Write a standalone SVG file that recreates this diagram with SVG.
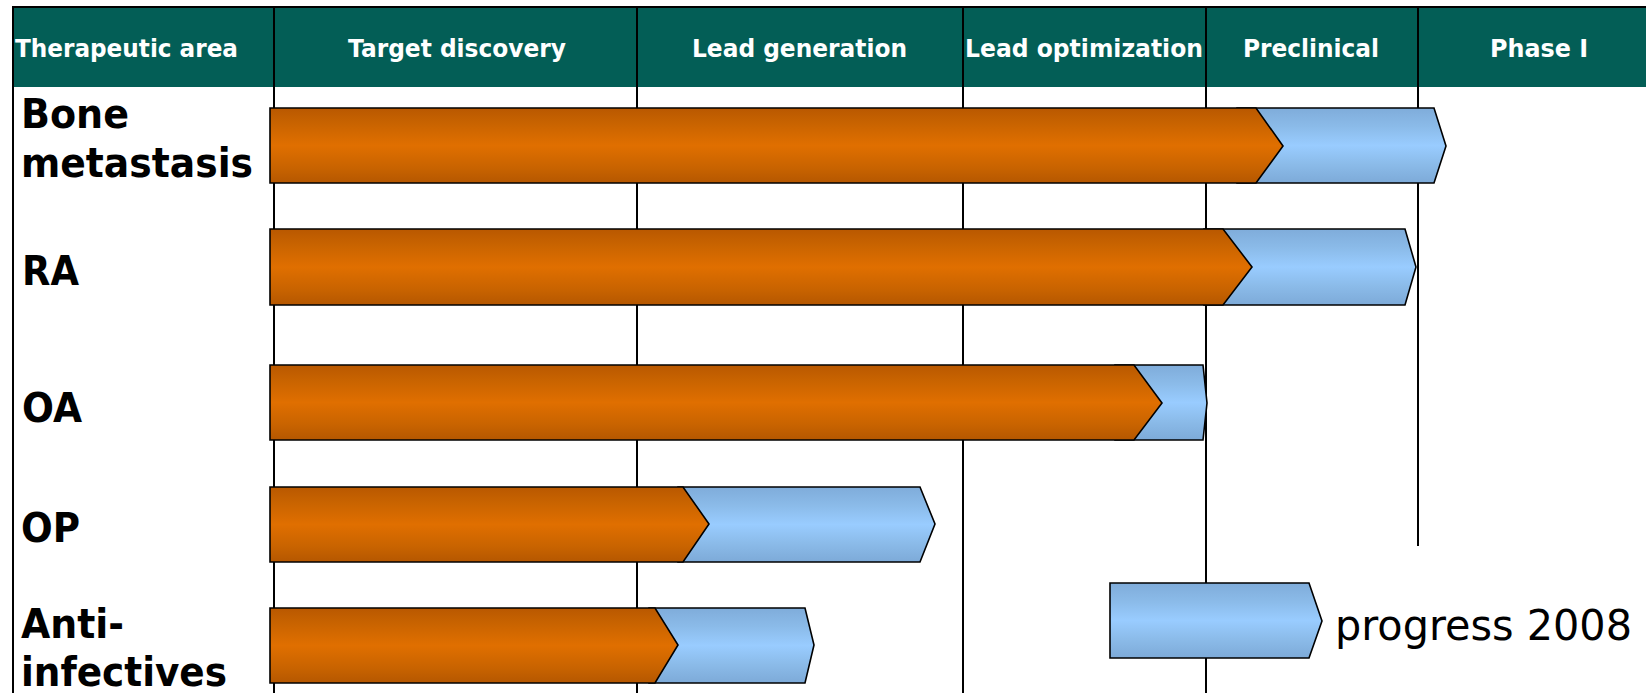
<svg xmlns="http://www.w3.org/2000/svg" width="1646" height="693" viewBox="0 0 1646 693">
<defs>
<linearGradient id="gOr" x1="0" y1="0" x2="0" y2="1">
<stop offset="0" stop-color="#B95800"/>
<stop offset="0.2" stop-color="#C86300"/>
<stop offset="0.5" stop-color="#E06F00"/>
<stop offset="0.8" stop-color="#C86300"/>
<stop offset="1" stop-color="#B55700"/>
</linearGradient>
<linearGradient id="gBl" x1="0" y1="0" x2="0" y2="1">
<stop offset="0" stop-color="#7FACDA"/>
<stop offset="0.25" stop-color="#8BBBE9"/>
<stop offset="0.5" stop-color="#99CCFF"/>
<stop offset="0.75" stop-color="#8BBBE9"/>
<stop offset="1" stop-color="#7DAAD8"/>
</linearGradient>
<style>
.hdr{font-family:"DejaVu Sans","Liberation Sans",sans-serif;font-weight:bold;font-size:25px;fill:#FFFFFF;text-anchor:middle}
.lbl{font-family:"DejaVu Sans","Liberation Sans",sans-serif;font-weight:bold;font-size:40px;fill:#000000}
.leg{font-family:"DejaVu Sans","Liberation Sans",sans-serif;font-size:43px;fill:#000000}
.grid{stroke:#000000;stroke-width:2;fill:none}
.or{fill:url(#gOr);stroke:#000000;stroke-width:1.6;stroke-linejoin:miter}
.bl{fill:url(#gBl);stroke:#000000;stroke-width:1.6;stroke-linejoin:miter}
</style>
</defs>
<rect width="1646" height="693" fill="#FFFFFF"/>
<g id="header">
<rect x="13" y="7" width="1633" height="80" fill="#035E56"/>
<line class="grid" x1="12" y1="7" x2="1646" y2="7"/>
<text class="hdr" x="126.5" y="57" textLength="223" lengthAdjust="spacingAndGlyphs">Therapeutic area</text>
<text class="hdr" x="457" y="57" textLength="218" lengthAdjust="spacingAndGlyphs">Target discovery</text>
<text class="hdr" x="799.5" y="57" textLength="215" lengthAdjust="spacingAndGlyphs">Lead generation</text>
<text class="hdr" x="1084" y="57" textLength="238" lengthAdjust="spacingAndGlyphs">Lead optimization</text>
<text class="hdr" x="1311" y="57" textLength="136" lengthAdjust="spacingAndGlyphs">Preclinical</text>
<text class="hdr" x="1539" y="57" textLength="98" lengthAdjust="spacingAndGlyphs">Phase I</text>
</g>
<g id="gridlines">
<line class="grid" x1="13" y1="7" x2="13" y2="693"/>
<line class="grid" x1="274" y1="7" x2="274" y2="693"/>
<line class="grid" x1="637" y1="7" x2="637" y2="693"/>
<line class="grid" x1="963" y1="7" x2="963" y2="693"/>
<line class="grid" x1="1206" y1="7" x2="1206" y2="693"/>
<line class="grid" x1="1418" y1="7" x2="1418" y2="546"/>
</g>
<g id="labels">
<text class="lbl" x="21" y="128" textLength="108" lengthAdjust="spacingAndGlyphs">Bone</text>
<text class="lbl" x="21" y="177" textLength="232" lengthAdjust="spacingAndGlyphs">metastasis</text>
<text class="lbl" x="22" y="285" textLength="57" lengthAdjust="spacingAndGlyphs">RA</text>
<text class="lbl" x="22" y="422" textLength="60" lengthAdjust="spacingAndGlyphs">OA</text>
<text class="lbl" x="21" y="542" textLength="59" lengthAdjust="spacingAndGlyphs">OP</text>
<text class="lbl" x="21" y="638" textLength="103" lengthAdjust="spacingAndGlyphs">Anti-</text>
<text class="lbl" x="21" y="686" textLength="206" lengthAdjust="spacingAndGlyphs">infectives</text>
</g>
<g id="bar-bone">
<polygon class="bl" points="1237,108 1434,108 1446,146 1434,183 1237,183"/>
<polygon class="or" points="270,108 1256,108 1283,146 1256,183 270,183"/>
</g>
<g id="bar-ra">
<polygon class="bl" points="1204,229 1405,229 1416,267 1405,305 1204,305"/>
<polygon class="or" points="270,229 1223,229 1252,267 1223,305 270,305"/>
</g>
<g id="bar-oa">
<polygon class="bl" points="1115,365 1203,365 1207,403 1203,440 1115,440"/>
<polygon class="or" points="270,365 1134,365 1162,403 1134,440 270,440"/>
</g>
<g id="bar-op">
<polygon class="bl" points="678,487 920,487 935,524 920,562 678,562"/>
<polygon class="or" points="270,487 683,487 709,524 683,562 270,562"/>
</g>
<g id="bar-anti">
<polygon class="bl" points="649,608 805,608 814,645 805,683 649,683"/>
<polygon class="or" points="270,608 655,608 678,645 655,683 270,683"/>
</g>
<g id="legend">
<polygon class="bl" points="1110,583 1309,583 1322,621 1309,658 1110,658"/>
<text class="leg" x="1335" y="640" textLength="297" lengthAdjust="spacingAndGlyphs">progress 2008</text>
</g>
</svg>
